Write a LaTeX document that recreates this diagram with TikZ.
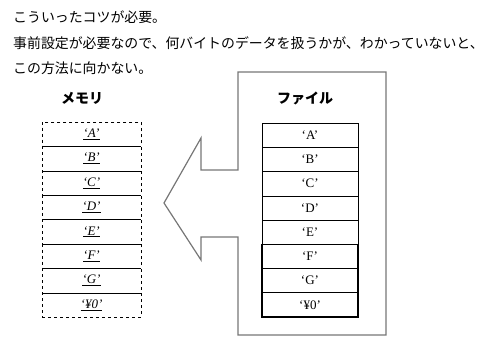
\documentclass[tikz,border=0pt]{standalone}
\usepackage{fontspec}
\setmainfont{Liberation Serif}
\newfontfamily\jpfont{Noto Sans CJK JP}
\definecolor{outlinegray}{RGB}{118,118,118}
\usetikzlibrary{positioning}

\tikzset{
  memcell/.style={draw, dashed, minimum width=99pt, minimum height=24.4pt, inner sep=0pt, font=\fontsize{13}{13}\selectfont},
  filecell/.style={draw, minimum width=96pt, minimum height=24.25pt, inner sep=0pt, font=\fontsize{13}{13}\selectfont},
  boldcell/.style={filecell, line width=1.2pt},
  jptext/.style={anchor=west, inner sep=0pt, font=\jpfont\fontsize{13.9}{13.9}\selectfont},
  jplabel/.style={inner sep=0pt, font=\jpfont\bfseries\fontsize{14}{14}\selectfont}
}

\begin{document}
\begin{tikzpicture}[x=1pt, y=-1pt]
  \useasboundingbox (0,0) rectangle (502,360);

  % Text on top
  \node[jptext] (line1) at (13, 17) {こういったコツが必要。};
  \node[jptext] (line2) at (13, 43) {事前設定が必要なので、何バイトのデータを扱うかが、わかっていないと、};
  \node[jptext] (line3) at (13, 68) {この方法に向かない。};

  % File box with the arrow pointing left
  \draw[outlinegray, line width=1.2pt] (238,72) -- (386,72) -- (386,335) -- (238,335)
    -- (238,237) -- (201,237) -- (201,260) -- (164,203) -- (201,138) -- (201,170)
    -- (238,170) -- cycle;

  % Memory
  \node[jplabel] (memlabel) at (82, 98) {メモリ};
  \foreach \i/\t in {1/A, 2/B, 3/C, 4/D, 5/E, 6/F, 7/G, 8/{¥0}} {
    \node[memcell] (m\i) at (91.5, {109.8 + 24.4*\i}) {\underline{\textit{‘\t’}}};
  }

  % File
  \node[jplabel] (filelabel) at (305, 98) {ファイル};
  \foreach \i/\t in {1/A, 2/B, 3/C, 4/D, 5/E} {
    \node[filecell] (f\i) at (310, {110.9 + 24.25*\i}) {‘\t’};
  }
  \foreach \i/\t in {6/F, 7/G, 8/{¥0}} {
    \node[boldcell] (f\i) at (310, {110.9 + 24.25*\i}) {‘\t’};
  }
\end{tikzpicture}
\end{document}
